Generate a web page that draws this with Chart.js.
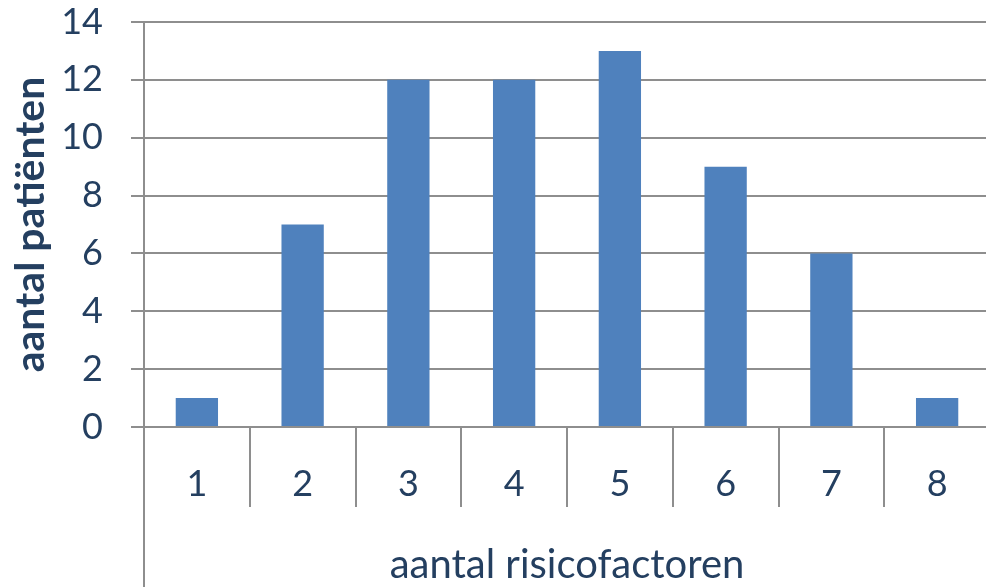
<!DOCTYPE html>
<html>
<head>
<meta charset="utf-8">
<script src="https://cdn.jsdelivr.net/npm/chart.js@4"></script>
<style>
  html, body { margin: 0; padding: 0; background: #fff; overflow: hidden; }
  #wrap { width: 990px; height: 587px; }
</style>
</head>
<body>
<div id="wrap"><canvas id="c" width="990" height="587"></canvas></div>
<script>
// Number of risk factors per patient
const categories = ['1', '2', '3', '4', '5', '6', '7', '8'];
const patients = [1, 7, 12, 12, 13, 9, 6, 1];
const yTicks = [0, 2, 4, 6, 8, 10, 12, 14];

const textColor = '#243F60';
const lineColor = '#8E8E8E';
const fontFamily = 'Lato, "Open Sans", sans-serif';

// Continue the vertical axis line below the category band, down to the canvas edge
const axisExtension = {
  id: 'axisExtension',
  afterDraw(chart) {
    const ctx = chart.ctx;
    const x = chart.chartArea.left;
    ctx.save();
    ctx.strokeStyle = lineColor;
    ctx.lineWidth = 2;
    ctx.beginPath();
    ctx.moveTo(x, chart.chartArea.bottom);
    ctx.lineTo(x, chart.height);
    ctx.stroke();
    ctx.restore();
  }
};

new Chart(document.getElementById('c'), {
  type: 'bar',
  data: {
    labels: categories,
    datasets: [{
      data: patients,
      backgroundColor: '#4F81BD',
      borderWidth: 0,
      categoryPercentage: 1,
      barPercentage: 0.4
    }]
  },
  options: {
    responsive: false,
    animation: false,
    layout: { padding: 0 },
    plugins: { legend: { display: false }, tooltip: { enabled: false } },
    scales: {
      x: {
        grid: {
          display: true,
          offset: true,
          drawOnChartArea: false,
          drawTicks: true,
          tickLength: 80,
          color: lineColor,
          lineWidth: 2
        },
        border: { display: true, color: lineColor, width: 2 },
        ticks: {
          color: textColor,
          font: { family: fontFamily, size: 36 },
          padding: -44,
          maxRotation: 0
        },
        title: {
          display: true,
          text: 'aantal risicofactoren',
          color: textColor,
          font: { family: fontFamily, size: 40, lineHeight: 1.0 },
          padding: { top: 0, bottom: 2 }
        },
        afterFit(scale) {
          scale.height = 160;
          scale.paddingRight = 0;
        }
      },
      y: {
        min: 0,
        max: 14,
        afterBuildTicks(scale) { scale.ticks = yTicks.map(v => ({ value: v })); },
        grid: {
          color: lineColor,
          lineWidth: 2,
          drawTicks: true,
          tickLength: 13
        },
        border: { display: true, color: lineColor, width: 2 },
        ticks: {
          color: textColor,
          font: { family: fontFamily, size: 36 },
          padding: 28
        },
        title: {
          display: true,
          text: 'aantal patiënten',
          color: textColor,
          font: { family: fontFamily, size: 41, weight: 'bold' },
          padding: { top: 6, bottom: 0 }
        },
        afterFit(scale) {
          scale.width = 144;
          scale.paddingTop = 22;
        }
      }
    }
  },
  plugins: [axisExtension]
});
</script>
</body>
</html>
